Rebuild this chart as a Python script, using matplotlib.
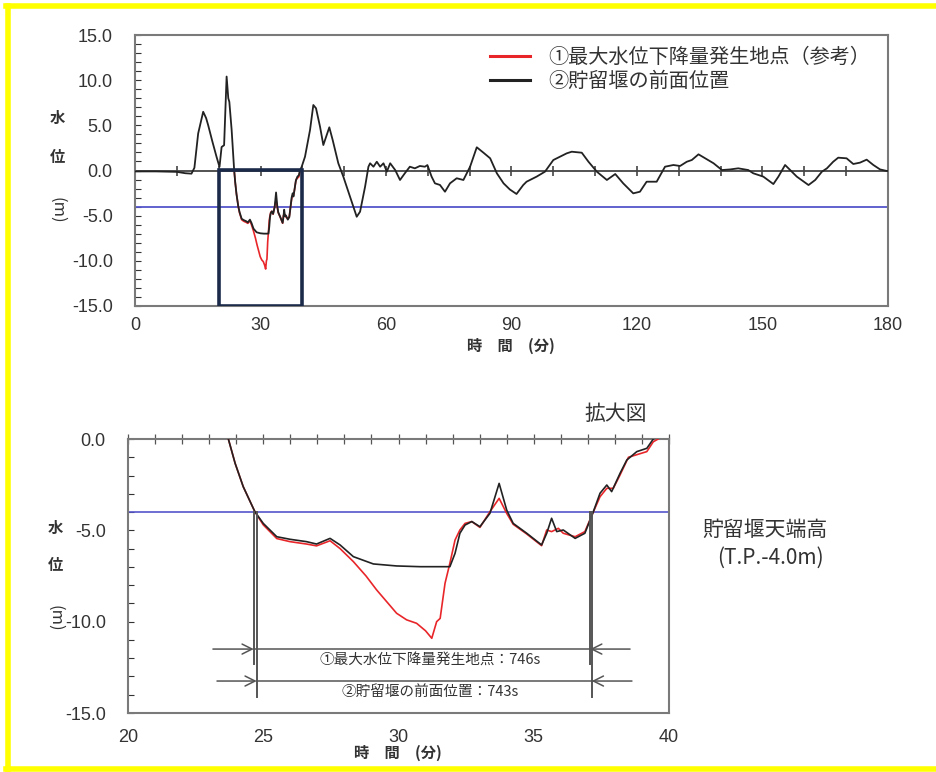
import numpy as np
import matplotlib
matplotlib.use("Agg")
import matplotlib.pyplot as plt
from matplotlib import font_manager
from matplotlib.patches import Rectangle
from matplotlib.lines import Line2D

plt.rcParams['font.family'] = ['Noto Sans CJK JP', 'DejaVu Sans']
names = {f.name for f in font_manager.fontManager.ttflist}
NUM_FONT = ['Liberation Sans Narrow', 'Noto Sans CJK JP'] if 'Liberation Sans Narrow' in names else ['Liberation Sans', 'DejaVu Sans']

# ---------------- data ----------------
t_black = [0, 5, 10, 12, 13.5, 14.2, 15.1, 16.3, 17.0, 17.5, 18.5, 19.5, 20.2, 20.7, 21.3, 21.9, 22.3, 22.55, 23.1,
           23.71, 23.96, 24.26, 24.69, 25.0, 25.5, 25.99, 26.6, 26.97, 27.47, 27.84, 28.33, 29.07, 29.93, 30.8,
           31.29, 31.9, 32.09, 32.27, 32.46, 32.71, 33.01, 33.38, 33.72, 34.0, 34.24, 34.74, 35.29, 35.48, 35.66,
           35.85, 36.09, 36.53, 36.89, 37.18, 37.45, 37.70, 37.88, 38.19, 38.44, 38.81, 39.18, 39.42,
           39.85, 40.64, 41.84, 42.63, 43.27, 44.23, 45.02, 45.82, 46.45, 47.25, 48.6, 49.8, 51.4, 53.0, 53.8,
           55.0, 55.8, 56.2, 57.0, 57.8, 58.6, 59.4, 60.2, 61.0, 62.2, 63.35, 64.5, 65.7, 66.9, 68.1, 69.3, 69.9,
           70.9, 71.7, 72.9, 74.1, 75.3, 76.9, 78.5, 80.1, 81.7, 83.3, 84.9, 86.5, 88.1, 89.6, 91.2, 92.8, 93.6,
           96.0, 98.0, 100.0, 101.6, 103.2, 104.4, 106.8, 108.4, 110.4, 112.8, 114.8, 116.7, 119.1, 120.7, 122.3,
           124.7, 126.7, 128.7, 130.3, 131.9, 133.1, 134.7, 136.3, 138.3, 140.3, 142.3, 144.2, 146.6, 147.8,
           150.2, 152.6, 153.8, 155.4, 156.6, 158.2, 161.0, 162.6, 164.2, 165.4, 166.9, 168.1, 170.1, 171.7,
           173.3, 174.9, 176.5, 178.1, 179.7, 180.0]
v_black = [-0.1, -0.1, -0.15, -0.3, -0.35, 0.3, 4.1, 6.5, 5.8, 5.0, 3.2, 1.5, 0.4, 2.6, 2.8, 10.4, 8.0, 7.6, 4.5,
           0.0, -1.33, -2.61, -3.98, -4.62, -5.35, -5.49, -5.62, -5.75, -5.44, -5.80, -6.44, -6.84, -6.95, -6.99,
           -6.99, -6.99, -6.26, -5.16, -4.71, -4.52, -4.80, -4.07, -2.43, -3.89, -4.62, -5.16, -5.80, -5.16, -4.34,
           -5.07, -4.98, -5.44, -5.16, -4.07, -2.97, -2.52, -2.88, -1.88, -1.15, -0.69, -0.51, 0.0,
           0.42, 1.53, 4.49, 7.25, 6.89, 4.85, 2.82, 3.93, 4.78, 3.38, 0.8, -0.68, -2.9, -5.12, -4.56,
           -1.79, 0.42, 0.8, 0.42, 0.97, 0.42, 0.8, -0.13, 0.8, 0.05, -1.05, -0.31, 0.42, 0.24, 0.5, 0.42, 0.6,
           -0.68, -1.42, -1.6, -2.35, -1.42, -0.86, -1.05, 0.42, 2.57, 1.97, 1.35, -0.31, -1.42, -2.1, -2.6, -1.61, -1.24,
           -0.68, -0.13, 1.16, 1.53, 1.9, 2.08, 1.97, 0.97, -0.13, -1.05, -0.39, -1.42, -2.53, -2.35, -1.24,
           -1.24, 0.42, 0.61, 0.5, 0.97, 1.16, 1.79, 1.35, 0.8, 0.05, 0.12, 0.24, 0.05, -0.31,
           -0.68, -1.5, -0.68, 0.61, 0.05, -0.68, -1.61, -1.05, -0.13, 0.24, 0.97, 1.42, 1.35, 0.72,
           0.87, 1.2, 0.61, 0.12, -0.05, -0.05]

t_red = [23.71, 23.96, 24.26, 24.69, 25.0, 25.5, 25.99, 26.6, 26.97, 27.47, 27.84, 28.33, 28.8, 29.19, 29.93,
         30.3, 30.67, 31.0, 31.23, 31.41, 31.54, 31.6, 31.72, 31.9, 32.09, 32.27, 32.46, 32.71, 33.01, 33.38,
         33.72, 34.0, 34.24, 34.74, 35.29, 35.48, 35.66, 35.91, 36.09, 36.53, 36.89, 37.18, 37.45, 37.70,
         37.94, 38.19, 38.5, 39.18, 39.42, 39.6]
v_red = [0.0, -1.33, -2.61, -3.98, -4.70, -5.45, -5.62, -5.75, -5.85, -5.57, -6.0, -6.71, -7.5, -8.26, -9.54,
         -9.9, -10.09, -10.5, -10.91, -10.0, -9.82, -9.18, -7.9, -6.8, -5.53, -4.98, -4.62, -4.52, -4.84, -3.98,
         -3.25, -4.07, -4.67, -5.2, -5.84, -4.98, -5.07, -4.89, -5.16, -5.35, -5.07, -4.07, -3.16, -2.70,
         -2.70, -1.97, -1.0, -0.69, -0.15, 0.0]

weir_crest = -4.0
label_red = '①最大水位下降量発生地点（参考）'
label_black = '②貯留堰の前面位置'
ann_labels = ['①最大水位下降量発生地点：746s', '②貯留堰の前面位置：743s']
ann_durations_s = [746, 743]
ann_starts = [24.65, 24.76]
zoom_t = (20, 40)

# ---------------- figure ----------------
W, H = 937, 772
fig = plt.figure(figsize=(W / 100, H / 100), dpi=100)
fig.patch.set_facecolor('white')

def fx(px):
    return px / W

def fy(py):
    return 1 - py / H

RED = '#e8262a'
BLK = '#222222'
BLUE = '#5555cc'
SPINE = '#7a7a7a'
TXT = '#333333'

ax1 = fig.add_axes([fx(135), fy(306), fx(888) - fx(135), fy(35) - fy(306)])
ax2 = fig.add_axes([fx(128), fy(713), fx(669) - fx(128), fy(439) - fy(713)])

# ---- top chart ----
ax1.axhline(0, color='#444444', lw=1.3, zorder=1)
ax1.plot(np.arange(10, 180, 10), np.zeros(17), linestyle='none', marker='|', ms=7, mew=1.2,
         color='#444444', zorder=1)
ax1.axhline(weir_crest, color=BLUE, lw=1.3, zorder=2)
ax1.plot(t_red, v_red, color=RED, lw=1.2, zorder=3, label=label_red)
ax1.plot(t_black, v_black, color=BLK, lw=1.3, zorder=4, label=label_black)
ax1.add_patch(Rectangle((zoom_t[0], -15), zoom_t[1] - zoom_t[0], 15, fill=False,
                        ec='#1c2a4a', lw=2.6, zorder=6))
ax1.set_xlim(0, 180)
ax1.set_ylim(-15, 15)
ax1.set_xticks(np.arange(0, 181, 30))
ax1.set_yticks(np.arange(-15, 16, 5))
ax1.set_yticks(np.arange(-15, 16, 1), minor=True)
ax1.set_yticklabels([f'{v:.1f}' for v in np.arange(-15, 16, 5)])
ax1.tick_params(axis='x', length=0, pad=8, labelsize=13, colors=TXT)
ax1.tick_params(axis='y', which='both', direction='in', length=4, width=0.8, pad=16,
                labelsize=13, colors=TXT)
leg = ax1.legend(loc='upper left', bbox_to_anchor=(0.471, 0.955), frameon=False, fontsize=14.5,
                 handlelength=2.0, handletextpad=0.9, labelspacing=0.15, borderpad=0, borderaxespad=0)
for h in leg.get_lines():
    h.set_linewidth(2.2)
for t in leg.get_texts():
    t.set_color(TXT)

# ---- bottom chart ----
ax2.axhline(weir_crest, color=BLUE, lw=1.2, zorder=2)
ax2.plot(t_red, v_red, color=RED, lw=1.2, zorder=3)
ax2.plot(t_black, v_black, color=BLK, lw=1.2, zorder=4)
ax2.set_xlim(*zoom_t)
ax2.set_ylim(-15, 0)
ax2.set_xticks(np.arange(20, 41, 5))
ax2.set_xticks(np.arange(20, 41, 1), minor=True)
ax2.set_yticks(np.arange(-15, 1, 5))
ax2.set_yticks(np.arange(-15, 1, 1), minor=True)
ax2.set_yticklabels([f'{v:.1f}' for v in np.arange(-15, 1, 5)])
ax2.tick_params(axis='x', which='both', bottom=False, top=True, direction='inout', length=7,
                width=0.9, color='#555555', pad=8, labelsize=13, labelcolor=TXT)
ax2.tick_params(axis='y', which='both', direction='in', length=4, width=0.8, pad=16,
                labelsize=13, colors=TXT)

# measurement annotation
ann_y_h = [-11.5, -13.25]
ann_y_end = [-12.3, -14.1]
ann_x_ext = [(23.14, 38.56), (23.29, 38.63)]
ann_text_y = [-12.1, -13.85]
for i in range(2):
    t0 = ann_starts[i]
    t1 = t0 + ann_durations_s[i] / 60.0
    for tv in (t0, t1):
        ax2.plot([tv, tv], [weir_crest, ann_y_end[i]], color='#555555', lw=1.4, zorder=5)
    ax2.plot([t0, t1], [ann_y_h[i], ann_y_h[i]], color='#555555', lw=1.1, zorder=5)
    ax2.annotate('', xy=(t0, ann_y_h[i]), xytext=(ann_x_ext[i][0], ann_y_h[i]),
                 arrowprops=dict(arrowstyle='->', color='#555555', lw=1.1, shrinkA=0, shrinkB=0,
                                 mutation_scale=18), zorder=5)
    ax2.annotate('', xy=(t1, ann_y_h[i]), xytext=(ann_x_ext[i][1], ann_y_h[i]),
                 arrowprops=dict(arrowstyle='->', color='#555555', lw=1.1, shrinkA=0, shrinkB=0,
                                 mutation_scale=18), zorder=5)
    ax2.text(31.17, ann_text_y[i], ann_labels[i], ha='center', va='center', fontsize=10.5, color=TXT)

ax2.text(0.902, 1.091, '拡大図', transform=ax2.transAxes, ha='center', va='center',
         fontsize=15, color=TXT)

for ax in (ax1, ax2):
    for s in ax.spines.values():
        s.set_color(SPINE)
        s.set_linewidth(1.5)
    for lbl in ax.get_xticklabels() + ax.get_yticklabels():
        lbl.set_fontfamily(NUM_FONT)

# axis labels (vertical writing)
for (xp, ys) in [(57, (118, 157, 210)), (55, (528, 565, 618))]:
    fig.text(fx(xp), fy(ys[0]), '水', ha='center', va='center', fontsize=11, fontweight='bold', color=TXT)
    fig.text(fx(xp), fy(ys[1]), '位', ha='center', va='center', fontsize=11, fontweight='bold', color=TXT)
    fig.text(fx(xp), fy(ys[2]), '(m)', ha='center', va='center', fontsize=12, rotation=-90, color=TXT)
fig.text(fx(511), fy(346), '時　間　(分)', ha='center', va='center', fontsize=11, fontweight='bold', color=TXT)
fig.text(fx(398), fy(753), '時　間　(分)', ha='center', va='center', fontsize=11, fontweight='bold', color=TXT)

fig.text(fx(765), fy(530), '貯留堰天端高', ha='center', va='center', fontsize=15, color=TXT)
fig.text(fx(770), fy(558), '(T.P.-4.0m)', ha='center', va='center', fontsize=15, color=TXT)

# yellow frame
for (x0, y0, x1, y1) in [(6, 6, 937, 6), (8, 6, 8, 770), (6, 769, 937, 769)]:
    fig.add_artist(Line2D([fx(x0), fx(x1)], [fy(y0), fy(y1)], color='#ffff00', lw=4))

fig.savefig('out.png', dpi=100)
